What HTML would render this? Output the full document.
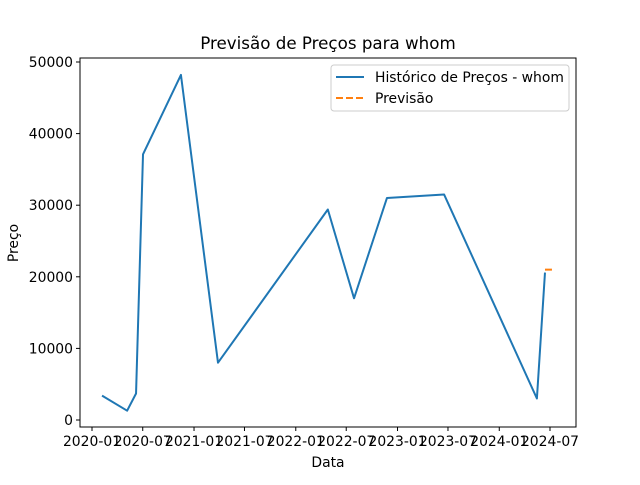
<!DOCTYPE html>
<html><head><meta charset="utf-8"><style>
body{margin:0;background:#fff;}
svg{font-family:"DejaVu Sans","Liberation Sans",sans-serif;}
</style></head><body>
<svg id="chart" width="640" height="480" viewBox="0 0 640 480">
<rect width="640" height="480" fill="#fff"/>
<text x="328" y="49" text-anchor="middle" font-size="16.7" fill="#000">Previsão de Preços para whom</text>
<g id="axes"></g>
<text x="328" y="467" text-anchor="middle" font-size="13.9">Data</text>
<text transform="translate(18,243) rotate(-90)" text-anchor="middle" font-size="13.9">Preço</text>
<g>
<rect x="331" y="65" width="238" height="46" rx="3" fill="#fff" stroke="#ccc" stroke-width="1"/>
<line x1="336" y1="77" x2="364" y2="77" stroke="#1f77b4" stroke-width="2"/>
<text x="375" y="82" font-size="13.9">Histórico de Preços - whom</text>
<line x1="336" y1="98" x2="364" y2="98" stroke="#ff7f0e" stroke-width="2" stroke-dasharray="7,3"/>
<text x="375" y="103" font-size="13.9">Previsão</text>
</g>
</svg>
<script>
const histDates=["2020-02-06","2020-05-06","2020-06-07","2020-07-02","2020-11-15","2021-03-28","2022-04-26","2022-07-29","2022-11-24","2023-06-17","2024-05-15","2024-06-13"];
const histPrices=[3400,1300,3700,37100,48200,8000,29400,17000,31000,31500,3000,20600];
const fcDates=["2024-06-13","2024-07-08"];
const fcPrices=[21000,21000];
const yTicks=[0,10000,20000,30000,40000,50000];
const xTicks=["2020-01","2020-07","2021-01","2021-07","2022-01","2022-07","2023-01","2023-07","2024-01","2024-07"];

const NS="http://www.w3.org/2000/svg";
const L=80,R=576,T=58,B=427;
const d0=Date.UTC(2020,0,1),d1=Date.UTC(2024,6,1);
function day(s){const p=s.split("-");return Date.UTC(+p[0],+p[1]-1,p[2]?+p[2]:1);}
function xs(s){return 92+(day(s)-d0)/(d1-d0)*(550-92);}
function ys(v){return 420-v/50000*(420-62);}
const g=document.getElementById("axes");
function el(t,a){const e=document.createElementNS(NS,t);for(const k in a)e.setAttribute(k,a[k]);g.appendChild(e);return e;}
yTicks.forEach(v=>{
  const y=ys(v);
  const t=el("line",{x1:L-4,x2:L,y1:y,y2:y,stroke:"#000"});
  
  
  const tx=el("text",{x:L-7,y:y+5,"text-anchor":"end","font-size":"13.9"});
  tx.textContent=v;
  
  
});
xTicks.forEach(s=>{
  const x=xs(s);
  const t=el("line",{x1:x,x2:x,y1:B,y2:B+4,stroke:"#000"});
  
  
  const tx=el("text",{x:x,y:B+19,"text-anchor":"middle","font-size":"13.9"});
  tx.textContent=s;
  
  
});
const hp=el("polyline",{points:histDates.map((d,i)=>xs(d)+","+ys(histPrices[i])).join(" "),fill:"none",stroke:"#1f77b4","stroke-width":"2","stroke-linejoin":"round"});


const fp=el("polyline",{points:fcDates.map((d,i)=>xs(d)+","+ys(fcPrices[i])).join(" "),fill:"none",stroke:"#ff7f0e","stroke-width":"2","stroke-dasharray":"7,3"});


const fr=el("rect",{x:L,y:T,width:R-L,height:B-T,fill:"none",stroke:"#000","stroke-width":"1"});


</script>
</body></html>
